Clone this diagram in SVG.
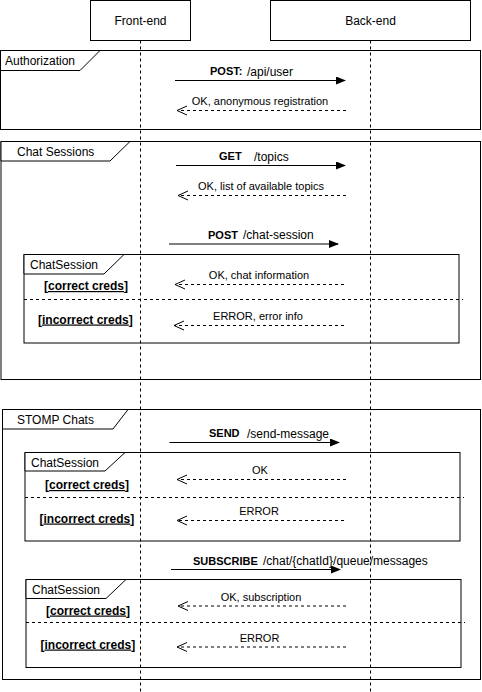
<svg xmlns="http://www.w3.org/2000/svg" width="482" height="692" viewBox="0 0 482 692">
<style>
text{font-family:"Liberation Sans",Arial,sans-serif;fill:#000}
.t12{font-size:12px}
.t11{font-size:11px}
.b{font-weight:bold}
.mid{text-anchor:middle}
.box{fill:#fff;stroke:#000;stroke-width:1}
.frame{fill:none;stroke:#000;stroke-width:1}
.tab{fill:#fff;stroke:#000;stroke-width:1}
.life{stroke:#000;stroke-width:1;stroke-dasharray:3,3;fill:none}
.sep{stroke:#000;stroke-width:1;stroke-dasharray:3,3;fill:none}
.call{stroke:#000;stroke-width:1;fill:none;marker-end:url(#block)}
.ret{stroke:#000;stroke-width:1;stroke-dasharray:3,3;fill:none;marker-end:url(#open)}
</style>
<defs>
<marker id="block" viewBox="0 0 10 8" refX="9" refY="4" markerWidth="10" markerHeight="8" markerUnits="userSpaceOnUse" orient="auto">
<path d="M0,0 L10,4 L0,8 Z" fill="#000"/>
</marker>
<marker id="open" viewBox="-1 -1 12 11" refX="10" refY="4.5" markerWidth="12" markerHeight="11" markerUnits="userSpaceOnUse" orient="auto">
<path d="M0,0 L10,4.5 L0,9" fill="none" stroke="#000" stroke-width="1"/>
</marker>
</defs>
<rect width="482" height="692" fill="#fff"/>

<g id="frame-authorization">
<rect class="frame" x="0.5" y="50.5" width="480" height="79"/>
<path class="tab" d="M0.5,50.5 H100 L80,70.5 H0.5 Z"/>
<text class="t12" x="5" y="65">Authorization</text>
</g>

<g id="frame-chat-sessions">
<rect class="frame" x="1" y="141.5" width="479.5" height="238"/>
<path class="tab" d="M1,141.5 H130 L110,161 H1 Z"/>
<text class="t12" x="17" y="156">Chat Sessions</text>
</g>

<g id="frame-chatsession-1">
<rect class="frame" x="24" y="254.5" width="435" height="88.5"/>
<path class="tab" d="M24,254.5 H124 L104,274 H24 Z"/>
<text class="t12" x="30" y="269">ChatSession</text>
<path class="sep" d="M24,299.5 H463"/>
<text class="t12 b" x="44" y="290">[<tspan text-decoration="underline">correct creds</tspan>]</text>
<text class="t12 b" x="38" y="323.5">[<tspan text-decoration="underline">incorrect creds</tspan>]</text>
</g>

<g id="frame-stomp-chats">
<rect class="frame" x="2.5" y="409.5" width="478" height="270"/>
<path class="tab" d="M2.5,409.5 H128 L113,429 H2.5 Z"/>
<text class="t12" x="17" y="424">STOMP Chats</text>
</g>

<g id="frame-chatsession-2">
<rect class="frame" x="25" y="452.5" width="435" height="88.5"/>
<path class="tab" d="M25,452.5 H125 L105,471 H25 Z"/>
<text class="t12" x="31" y="467">ChatSession</text>
<path class="sep" d="M25,497.5 H464"/>
<text class="t12 b" x="45" y="489">[<tspan text-decoration="underline">correct creds</tspan>]</text>
<text class="t12 b" x="39.5" y="522.5">[<tspan text-decoration="underline">incorrect creds</tspan>]</text>
</g>

<g id="frame-chatsession-3">
<rect class="frame" x="26" y="579.5" width="435" height="88"/>
<path class="tab" d="M26,579.5 H126 L106,598.5 H26 Z"/>
<text class="t12" x="32" y="594">ChatSession</text>
<path class="sep" d="M26,622.5 H465"/>
<text class="t12 b" x="46" y="614.5">[<tspan text-decoration="underline">correct creds</tspan>]</text>
<text class="t12 b" x="40.5" y="648.5">[<tspan text-decoration="underline">incorrect creds</tspan>]</text>
</g>

<g id="node-frontend">
<rect class="box" x="90.5" y="0.5" width="100" height="40"/>
<text class="t12 mid" x="140.5" y="25">Front-end</text>
</g>

<g id="node-backend">
<rect class="box" x="270.5" y="0.5" width="200" height="40"/>
<text class="t12 mid" x="370.5" y="25">Back-end</text>
</g>

<g id="lifelines">
<path class="life" d="M140.5,40.5 V692"/>
<path class="life" d="M370.5,40.5 V692"/>
</g>

<g id="connectors">
<path class="call" d="M175,80.5 H345"/>
<text class="t11 b" x="210" y="75">POST:</text>
<text class="t12" x="247" y="75.5">/api/user</text>

<path class="ret" d="M346,110.5 H177"/>
<text class="t11 mid" x="260" y="104.5">OK, anonymous registration</text>

<path class="call" d="M176,165.5 H345"/>
<text class="t11 b" x="219" y="160">GET</text>
<text class="t12" x="254" y="160.5">/topics</text>

<path class="ret" d="M346,195.5 H178"/>
<text class="t11 mid" x="261" y="190">OK, list of available topics</text>

<path class="call" d="M169,244 H338"/>
<text class="t11 b" x="208" y="238.5">POST</text>
<text class="t12" x="243" y="239">/chat-session</text>

<path class="ret" d="M344,284.5 H175"/>
<text class="t11 mid" x="259" y="279">OK, chat information</text>

<path class="ret" d="M344,325.5 H174"/>
<text class="t11 mid" x="258" y="320">ERROR, error info</text>

<path class="call" d="M169.5,442.5 H339"/>
<text class="t11 b" x="209" y="437">SEND</text>
<text class="t12" x="247" y="437.5">/send-message</text>

<path class="ret" d="M346,479.5 H177"/>
<text class="t11 mid" x="260" y="474">OK</text>

<path class="ret" d="M344,520.5 H177"/>
<text class="t11 mid" x="259" y="515">ERROR</text>

<path class="call" d="M171,569.5 H340"/>
<text class="t11 b" x="193" y="564.5">SUBSCRIBE</text>
<text class="t12" x="263" y="565">/chat/{chatId}/queue/messages</text>

<path class="ret" d="M346,606 H178"/>
<text class="t11 mid" x="261" y="601">OK, subscription</text>

<path class="ret" d="M346,647 H177"/>
<text class="t11 mid" x="259.5" y="641.5">ERROR</text>
</g>
</svg>
